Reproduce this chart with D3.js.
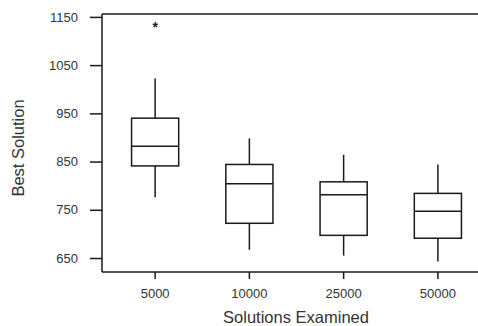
<!DOCTYPE html>
<html>
<head>
<meta charset="utf-8">
<script src="https://cdn.jsdelivr.net/npm/d3@7"></script>
<style>
  body { margin: 0; background: #fff; }
  text { font-family: "Liberation Sans", Arial, sans-serif; }
</style>
</head>
<body>
<div id="chart"></div>
<script>
// values
var categories = ["5000", "10000", "25000", "50000"];
var whiskerLow = [776, 667, 655, 643];
var q1 = [841, 722, 697, 691];
var median = [882, 804, 781, 747];
var q3 = [940, 844, 808, 784];
var whiskerHigh = [1022, 898, 864, 844];
var outliers = [[1134], [], [], []];
var yTicks = [650, 750, 850, 950, 1050, 1150];

var width = 478, height = 326;
var plotLeft = 102, plotTop = 14, plotBottom = 272;

var svg = d3
  .select("#chart")
  .append("svg")
  .attr("width", width)
  .attr("height", height);

var x = d3.scaleBand().domain(categories).range([108, 485]);
var y = d3.scaleLinear().domain([621, 1156]).range([plotBottom, plotTop]);

var boxW = x.bandwidth() * 0.5;
var stroke = "#1a1a1a";
var textColor = "#333";

// frame: left, top and bottom lines
svg.append("line")
  .attr("x1", plotLeft).attr("x2", plotLeft)
  .attr("y1", plotTop).attr("y2", plotBottom)
  .attr("stroke", stroke).attr("stroke-width", 1.5);
svg.append("line")
  .attr("x1", plotLeft).attr("x2", width)
  .attr("y1", plotTop).attr("y2", plotTop)
  .attr("stroke", stroke).attr("stroke-width", 1.5);
svg.append("line")
  .attr("x1", plotLeft).attr("x2", width)
  .attr("y1", plotBottom).attr("y2", plotBottom)
  .attr("stroke", stroke).attr("stroke-width", 1.5);

//Y axis
var yAxis = svg.append("g")
  .attr("transform", "translate(" + plotLeft + ",0)")
  .call(d3.axisLeft(y).tickValues(yTicks).tickFormat(d3.format("d"))
    .tickSize(12).tickSizeOuter(0).tickPadding(12));
yAxis.select(".domain").remove();
yAxis.selectAll("line").attr("stroke", stroke).attr("stroke-width", 1.5);
yAxis.selectAll("text").style("font-size", "13px").style("fill", textColor);

//X axis
var xAxis = svg.append("g")
  .attr("transform", "translate(0," + plotBottom + ")")
  .call(d3.axisBottom(x).tickSize(7).tickSizeOuter(0).tickPadding(10));
xAxis.select(".domain").remove();
xAxis.selectAll("line").attr("stroke", stroke).attr("stroke-width", 1.5);
xAxis.selectAll("text").style("font-size", "13px").style("fill", textColor);

//Boxes
var rows = categories.map(function (c, i) {
  return {
    cat: c,
    lo: whiskerLow[i],
    q1: q1[i],
    med: median[i],
    q3: q3[i],
    hi: whiskerHigh[i],
    out: outliers[i],
  };
});

var cx = function (d) { return x(d.cat) + x.bandwidth() / 2; };

var g = svg.selectAll(".box").data(rows).enter().append("g").attr("class", "box");

g.append("line")
  .attr("x1", cx).attr("x2", cx)
  .attr("y1", function (d) { return y(d.q3); })
  .attr("y2", function (d) { return y(d.hi); })
  .attr("stroke", stroke).attr("stroke-width", 1.5);

g.append("line")
  .attr("x1", cx).attr("x2", cx)
  .attr("y1", function (d) { return y(d.q1); })
  .attr("y2", function (d) { return y(d.lo); })
  .attr("stroke", stroke).attr("stroke-width", 1.5);

g.append("rect")
  .attr("x", function (d) { return cx(d) - boxW / 2; })
  .attr("y", function (d) { return y(d.q3); })
  .attr("width", boxW)
  .attr("height", function (d) { return y(d.q1) - y(d.q3); })
  .attr("fill", "white")
  .attr("stroke", stroke).attr("stroke-width", 1.5);

g.append("line")
  .attr("x1", function (d) { return cx(d) - boxW / 2; })
  .attr("x2", function (d) { return cx(d) + boxW / 2; })
  .attr("y1", function (d) { return y(d.med); })
  .attr("y2", function (d) { return y(d.med); })
  .attr("stroke", stroke).attr("stroke-width", 1.5);

//Outliers
g.each(function (d) {
  d3.select(this).selectAll(".out").data(d.out).enter().append("text")
    .attr("class", "out")
    .attr("x", cx(d))
    .attr("y", function (v) { return y(v) + 7; })
    .attr("text-anchor", "middle")
    .style("font-size", "14px")
    .style("font-weight", "bold")
    .style("fill", "#222")
    .text("*");
});

//Axis titles
svg.append("text")
  .attr("transform", "translate(24,148) rotate(-90)")
  .attr("text-anchor", "middle")
  .style("font-size", "16.5px")
  .style("fill", textColor)
  .text("Best Solution");

svg.append("text")
  .attr("x", 296)
  .attr("y", 323)
  .attr("text-anchor", "middle")
  .style("font-size", "16.5px")
  .style("fill", textColor)
  .text("Solutions Examined");
</script>
</body>
</html>
